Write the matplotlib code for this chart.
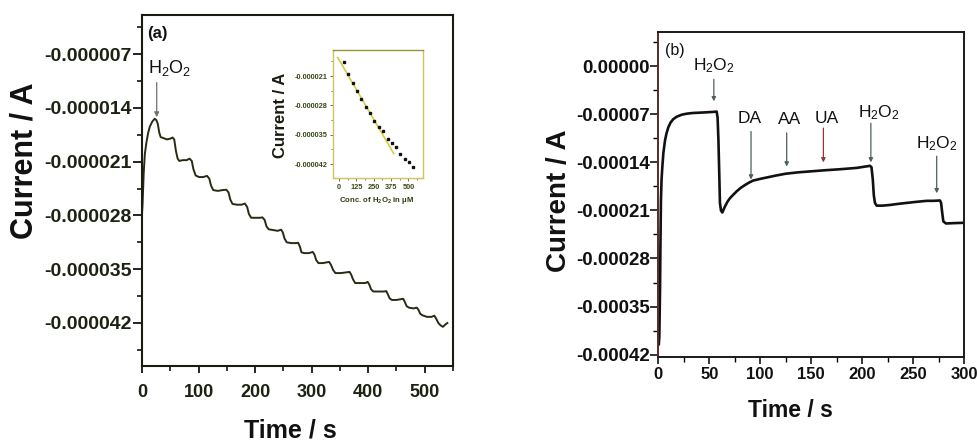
import matplotlib
matplotlib.use("Agg")
import matplotlib.pyplot as plt
from matplotlib.ticker import FixedLocator, MultipleLocator

plt.rcParams['font.family'] = ['Liberation Sans', 'DejaVu Sans']
plt.rcParams['mathtext.default'] = 'regular'

# (a) amperometric response to successive H2O2 additions, current in uA
time_a = [0, 1, 3, 5, 8, 11, 14, 18, 22.5, 25.5, 28, 30.5, 33, 37, 44, 50, 54, 57,
          60, 63, 66, 72, 79, 84, 88, 91, 95, 101, 108, 115, 119, 122, 126, 134,
          142, 149, 153, 156, 160, 168, 176, 182, 186, 189, 193, 201, 209, 213,
          217, 220, 224, 232, 240, 246, 249, 252, 256, 264, 272, 276, 279, 282,
          287, 295, 302, 305, 308, 312, 320, 327, 331, 334, 338, 342, 352, 362,
          367, 370, 373, 377, 386, 395, 399, 402, 405, 409, 418, 428, 432, 435,
          438, 442, 450, 458, 462, 465, 468, 472, 480, 486, 489, 492, 496, 504,
          512, 517, 520, 524, 528, 532, 535, 538, 540]
curr_a = [-27.8, -26.5, -22.5, -20.0, -18.4, -17.2, -16.4, -15.8, -15.4, -15.6,
          -16.1, -17.2, -17.8, -17.9, -18.1, -18.0, -17.85, -18.1, -19.6, -20.6,
          -20.9, -20.8, -20.8, -20.6, -20.9, -22.0, -22.8, -23.0, -23.0, -22.85,
          -23.2, -24.1, -24.7, -24.8, -24.7, -24.65, -25.0, -25.9, -26.5, -26.6,
          -26.6, -26.45, -26.9, -27.8, -28.3, -28.3, -28.3, -28.25, -28.6, -29.4,
          -29.8, -29.9, -30.0, -29.85, -30.2, -31.0, -31.5, -31.6, -31.6, -31.55,
          -32.0, -32.8, -32.9, -32.9, -32.75, -33.1, -33.8, -34.2, -34.2, -34.1,
          -34.05, -34.4, -35.1, -35.5, -35.5, -35.4, -35.35, -35.7, -36.3, -36.8,
          -36.8, -36.8, -36.65, -37.0, -37.6, -37.9, -37.9, -37.9, -37.85, -38.3,
          -38.8, -39.0, -39.0, -38.9, -38.85, -39.3, -39.8, -40.0, -40.1, -40.0,
          -40.3, -40.8, -41.0, -41.2, -41.2, -41.05, -41.4, -42.0, -42.3, -42.5,
          -42.3, -42.1, -42.0]

# inset: calibration, steady-state current vs H2O2 concentration (uM), uA
conc = [35, 68, 100, 131, 162, 194, 225, 256, 287, 318, 350, 381, 412, 443,
        474, 505, 535]
curr_cal = [-17.7, -20.6, -22.6, -24.5, -26.4, -28.3, -29.9, -31.7, -33.1,
            -34.1, -36.0, -36.9, -38.0, -39.5, -40.7, -41.6, -42.7]
fit_conc = [-9, 395]
fit_curr = [-16.6, -39.5]

# (b) interference test, current in units of 1e-5 A
time_b = [0.5, 1.0, 1.4, 1.7, 2.1, 2.6, 3.2, 4, 5, 6.6, 8, 9.8, 12, 14.7, 18, 23,
          28, 34, 41, 47.5, 53, 57.3, 58.2, 59, 59.8, 60.5, 61.5, 62.8, 64, 65.5,
          68, 70.4, 73, 77, 81, 85, 89, 93, 100, 108, 116, 125, 137, 150, 163,
          178, 194.7, 207.7, 209.2, 210.5, 211.5, 212.6, 214.3, 220, 227.4, 235,
          243.8, 253, 263.4, 270, 276.4, 277.5, 278.5, 279.7, 282.3, 290, 299.5]
curr_b = [-40.5, -39.4, -35.5, -32.6, -26.0, -19.5, -16.5, -14.6, -12.6, -10.8,
          -9.8, -8.9, -8.2, -7.7, -7.35, -7.05, -6.9, -6.8, -6.75, -6.7, -6.65,
          -6.6, -7.5, -10.7, -15.5, -19.9, -21.0, -21.3, -20.9, -20.4, -19.7,
          -19.2, -18.8, -18.2, -17.7, -17.3, -16.95, -16.65, -16.4, -16.15, -15.9,
          -15.65, -15.45, -15.3, -15.15, -15.0, -14.8, -14.5, -14.7, -16.5, -18.8,
          -19.9, -20.3, -20.3, -20.2, -20.05, -19.9, -19.75, -19.6, -19.6, -19.55,
          -19.9, -21.2, -22.6, -22.9, -22.85, -22.8]

# additions marked in (b): label, arrow x, arrow tail, arrow tip, text x, text y
add_labels = ['H$_2$O$_2$', 'DA', 'AA', 'UA', 'H$_2$O$_2$', 'H$_2$O$_2$']
add_t = [54.5, 91, 126, 162, 208.6, 273.2]
add_tail = [-1.9, -9.5, -9.7, -9.0, -8.3, -13.1]
add_tip = [-5.1, -16.5, -14.6, -14.0, -14.0, -18.5]
add_text_t = [54.5, 90, 129, 165.5, 216, 273]
add_text_y = [-0.6, -8.3, -8.4, -8.3, -7.4, -12.0]
add_colors = ['#4f5f5a', '#4f5f5a', '#4f5f5a', '#8b3a3a', '#4f5f5a', '#4f5f5a']

yticks_a = [-7, -14, -21, -28, -35, -42]
ylabels_a = ['-0.000007', '-0.000014', '-0.000021', '-0.000028', '-0.000035', '-0.000042']
yticks_in = [-21, -28, -35, -42]
ylabels_in = ['-0.000021', '-0.000028', '-0.000035', '-0.000042']
xticks_in = [0, 125, 250, 375, 500]
yticks_b = [0, -7, -14, -21, -28, -35, -42]
ylabels_b = ['0.00000', '-0.00007', '-0.00014', '-0.00021', '-0.00028', '-0.00035', '-0.00042']

dark = '#1c2212'

fig = plt.figure(figsize=(9.78, 4.45), dpi=100)
ax_a = fig.add_axes([0.1452, 0.1775, 0.318, 0.7888])
ax_b = fig.add_axes([0.6731, 0.1978, 0.3126, 0.7303])
ax_in = fig.add_axes([0.3408, 0.6, 0.092, 0.2876])

# ---- panel (a)
ax_a.plot(time_a, curr_a, color='#2a2a14', lw=1.4)
ax_a.set_xlim(0, 550)
ax_a.set_ylim(-47.6, -1.9)
ax_a.yaxis.set_major_locator(FixedLocator(yticks_a))
ax_a.set_yticklabels(ylabels_a)
ax_a.yaxis.set_minor_locator(MultipleLocator(3.5))
ax_a.xaxis.set_major_locator(MultipleLocator(100))
ax_a.xaxis.set_minor_locator(MultipleLocator(50))
ax_a.tick_params(axis='y', which='major', direction='out', length=6.5, width=1.2,
                 pad=1, labelsize=14, labelcolor=dark)
ax_a.tick_params(axis='x', which='major', direction='out', length=5, width=1.2,
                 pad=8, labelsize=13, labelcolor=dark)
ax_a.tick_params(which='minor', direction='out', length=3.5, width=1.1)
for lab in ax_a.get_xticklabels() + ax_a.get_yticklabels():
    lab.set_fontweight('bold')
for sp in ax_a.spines.values():
    sp.set_linewidth(1.5)
    sp.set_color('#1a1a10')
ax_a.set_ylabel('Current / A', fontsize=22, fontweight='bold', color='#111111')
ax_a.yaxis.set_label_coords(-0.328, 0.584)
ax_a.set_xlabel('Time / s', fontsize=18, fontweight='bold', color='#111111')
ax_a.xaxis.set_label_coords(0.476, -0.149)
ax_a.text(0.016, 0.968, '(a)', transform=ax_a.transAxes, ha='left', va='top',
          fontsize=12, fontweight='bold', color='#111111')
ax_a.text(10, -9.5, 'H$_2$O$_2$', ha='left', va='baseline', fontsize=13,
          color='#111111')
ax_a.annotate('', xy=(26, -15.2), xytext=(26, -10.7),
              arrowprops=dict(arrowstyle='-|>', color='#707070', lw=0.9,
                              mutation_scale=7, shrinkA=0, shrinkB=0))

# ---- inset calibration plot
ax_in.plot(fit_conc, fit_curr, color='#d6cc40', lw=1.2)
ax_in.plot(conc, curr_cal, 's', color='#111111', ms=2.0)
ax_in.set_xlim(-41, 608)
ax_in.set_ylim(-45.3, -14.8)
ax_in.yaxis.set_major_locator(FixedLocator(yticks_in))
ax_in.set_yticklabels(ylabels_in)
ax_in.yaxis.set_minor_locator(MultipleLocator(3.5))
ax_in.xaxis.set_major_locator(FixedLocator(xticks_in))
ax_in.xaxis.set_minor_locator(MultipleLocator(62.5))
ax_in.tick_params(which='major', direction='out', length=2.5, width=0.6, pad=1.5,
                  labelsize=5.3, labelcolor='#3a4a18', color='#555533')
ax_in.tick_params(which='minor', direction='out', length=1.5, width=0.5,
                  color='#555533')
for lab in ax_in.get_xticklabels() + ax_in.get_yticklabels():
    lab.set_fontweight('bold')
for sp in ax_in.spines.values():
    sp.set_linewidth(1.0)
    sp.set_color('#cfc65a')
ax_in.spines['top'].set_color('#9a9436')
ax_in.set_ylabel('Current / A', fontsize=12, fontweight='bold', color='#1a1a10')
ax_in.yaxis.set_label_coords(-0.50, 0.493)
ax_in.set_xlabel('Conc. of H$_2$O$_2$ in \u03bcM', fontsize=5.6, fontweight='bold',
                 color='#2e3d10')
ax_in.xaxis.set_label_coords(0.48, -0.135)

# ---- panel (b)
ax_b.plot(time_b, curr_b, color='#111111', lw=1.9)
ax_b.set_xlim(0, 300)
ax_b.set_ylim(-42.35, 5.0)
ax_b.yaxis.set_major_locator(FixedLocator(yticks_b))
ax_b.set_yticklabels(ylabels_b)
ax_b.yaxis.set_minor_locator(MultipleLocator(3.5))
ax_b.xaxis.set_major_locator(MultipleLocator(50))
ax_b.xaxis.set_minor_locator(MultipleLocator(25))
ax_b.tick_params(axis='y', which='major', direction='out', length=5.5, width=1.1,
                 pad=0.5, labelsize=13.5, labelcolor='#111111')
ax_b.tick_params(axis='x', which='major', direction='out', length=5, width=1.1,
                 pad=2, labelsize=12, labelcolor='#111111')
ax_b.tick_params(which='minor', direction='out', length=3.5, width=1.0)
for lab in ax_b.get_xticklabels() + ax_b.get_yticklabels():
    lab.set_fontweight('bold')
for sp in ax_b.spines.values():
    sp.set_linewidth(1.4)
    sp.set_color('#1a1a1a')
ax_b.spines['left'].set_color('#5a2a2a')
ax_b.set_ylabel('Current / A', fontsize=20, fontweight='bold', color='#111111')
ax_b.yaxis.set_label_coords(-0.282, 0.481)
ax_b.set_xlabel('Time / s', fontsize=16.5, fontweight='bold', color='#111111')
ax_b.xaxis.set_label_coords(0.432, -0.130)
ax_b.text(0.023, 0.966, '(b)', transform=ax_b.transAxes, ha='left', va='top',
          fontsize=11.5, color='#111111')

for lab, t, tail, tip, tx, ty, c in zip(add_labels, add_t, add_tail, add_tip,
                                        add_text_t, add_text_y, add_colors):
    ax_b.annotate('', xy=(t, tip), xytext=(t, tail),
                  arrowprops=dict(arrowstyle='-|>', color=c, lw=0.9,
                                  mutation_scale=6, shrinkA=0, shrinkB=0))
    ax_b.text(tx, ty, lab, ha='center', va='baseline', fontsize=12.5,
              color='#111111')

fig.savefig('out.png', dpi=100)
